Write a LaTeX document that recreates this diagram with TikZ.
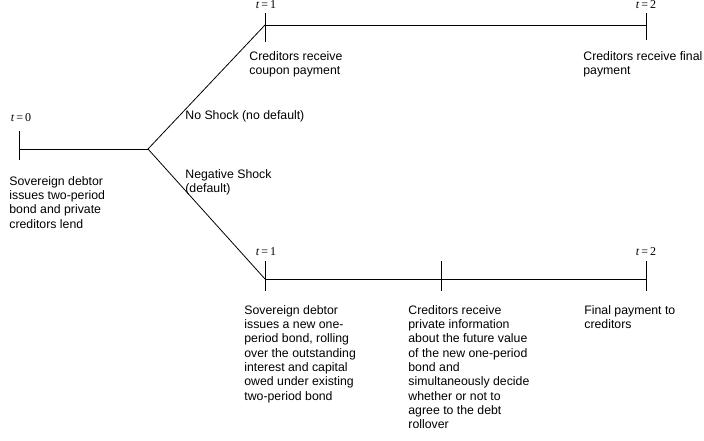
\documentclass[tikz,border=0pt]{standalone}
\usepackage{fontspec}
\setmainfont{Liberation Sans}
\newfontfamily\timesfont{Liberation Serif}
\tikzset{
  txt/.style={anchor=north west, inner sep=0pt, align=left, font=\fontsize{12.3}{14.3}\selectfont},
  tlab/.style={inner sep=0pt, font=\timesfont\fontsize{12}{12}\selectfont},
}
\newcommand{\tval}[1]{\textit{t}\,=\,#1}

\begin{document}
\begin{tikzpicture}[x=1pt, y=-1pt, line width=0.8pt]
\useasboundingbox (0,0) rectangle (704,440);
% points on the time lines
\coordinate (s)  at (19,149);
\coordinate (br) at (148,149);
\coordinate (u1) at (265,25);
\coordinate (u2) at (646,25);
\coordinate (d1) at (265,279);
\coordinate (dm) at (441,279);
\coordinate (d2) at (646,279);
\draw (s) to (br);
\draw (br) to (u1);
\draw (br) to (d1);
\draw (u1) to (u2);
\draw (d1) to (d2);
% ticks: point / up / down
\foreach \p/\a/\b in {s/18/11, u1/12/17, u2/12/15, d1/18/12, dm/18/12, d2/18/12}
{
  \draw ([yshift=\a pt]\p) to ([yshift=-\b pt]\p);
}
% time labels
\node[tlab] (t0)  at (21,118) {\tval{0}};
\node[tlab] (t1u) at (266,5)  {\tval{1}};
\node[tlab] (t2u) at (646,5)  {\tval{2}};
\node[tlab] (t1d) at (266,252) {\tval{1}};
\node[tlab] (t2d) at (646,252) {\tval{2}};
% texts
\node[txt] (init) at (9,176) {Sovereign debtor\\issues two-period\\bond and private\\creditors lend};
\node[txt] (noshock) at (185,110) {No Shock (no default)};
\node[txt] (negshock) at (185,169) {Negative Shock\\(default)};
\node[txt] (coupon) at (249,51) {Creditors receive\\coupon payment};
\node[txt] (finalu) at (583,51) {Creditors receive final\\payment};
\node[txt] (rollnew) at (244,305) {Sovereign debtor\\issues a new one-\\period bond, rolling\\over the outstanding\\interest and capital\\owed under existing\\two-period bond};
\node[txt] (info) at (408,305) {Creditors receive\\private information\\about the future value\\of the new one-period\\bond and\\simultaneously decide\\whether or not to\\agree to the debt\\rollover};
\node[txt] (finald) at (584,305) {Final payment to\\creditors};
\end{tikzpicture}
\end{document}
